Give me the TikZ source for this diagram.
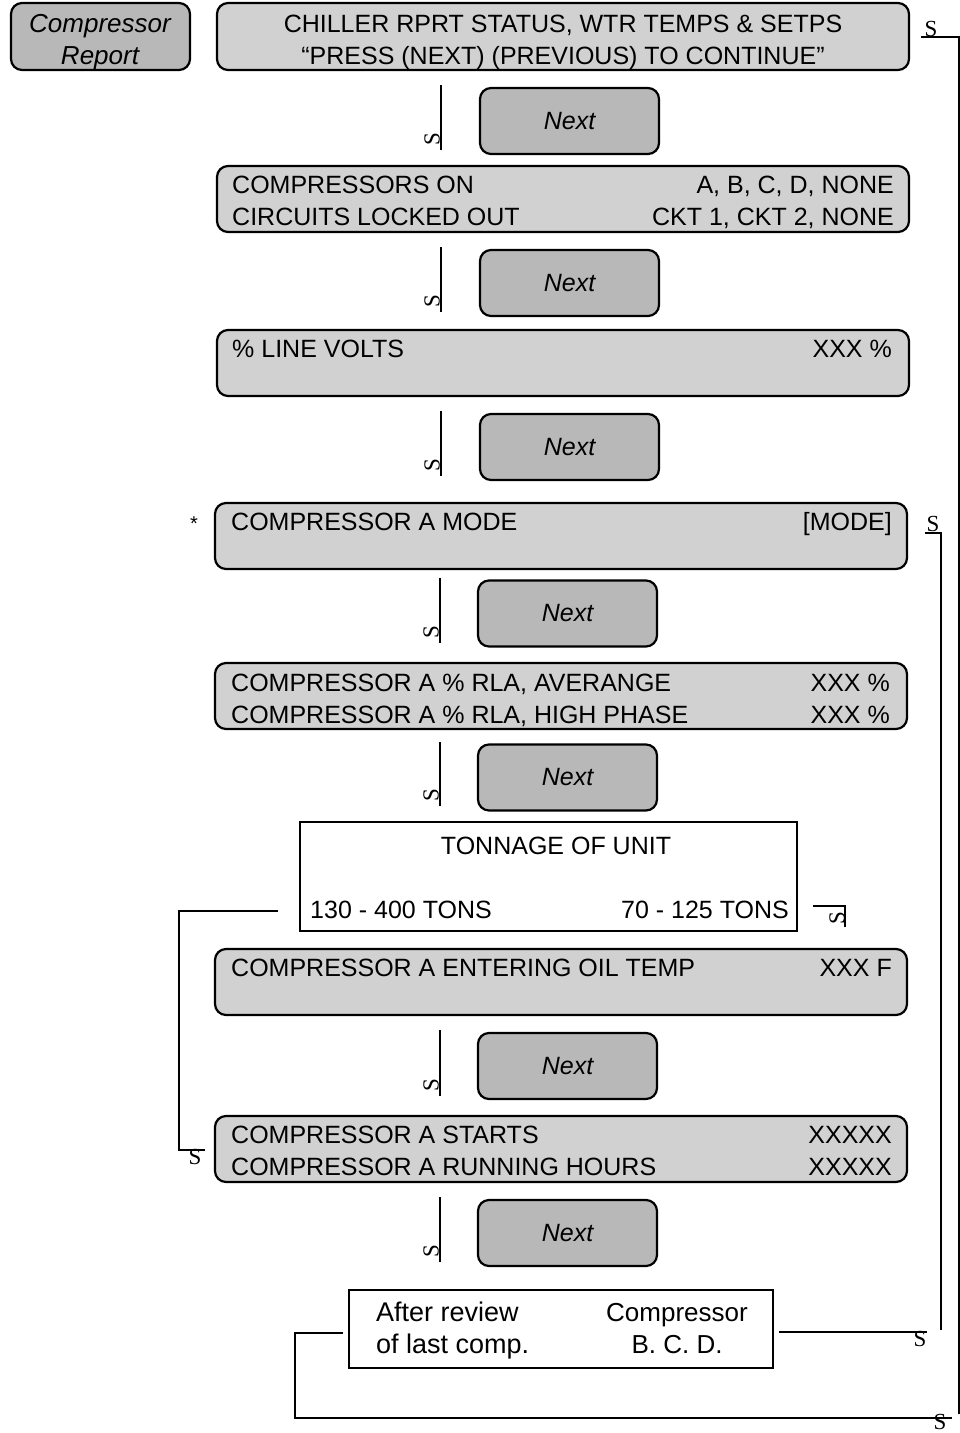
\documentclass[tikz,border=0pt]{standalone}
\usepackage{fontspec}
\setmainfont{Liberation Sans}
\newfontfamily\glyphfont{Liberation Serif}
\usetikzlibrary{positioning}
\definecolor{panelgray}{gray}{0.82}
\definecolor{btngray}{gray}{0.72}

\begin{document}
\begin{tikzpicture}[x=1pt, y=-1pt,
  panel/.style={draw, line width=2.2pt, rounded corners=11pt, fill=panelgray, minimum width=692pt, minimum height=66pt, inner sep=0pt},
  btn/.style={draw, line width=2.2pt, rounded corners=11pt, fill=btngray, minimum width=179pt, minimum height=66pt, inner sep=0pt, font=\fontsize{25}{30}\selectfont\itshape},
  plainbox/.style={draw, line width=2pt, fill=white, inner sep=0pt},
  lbl/.style={inner sep=0pt, font=\fontsize{25}{30}\selectfont},
  sg/.style={inner sep=0pt, font=\glyphfont\fontsize{23}{23}\selectfont},
  link/.style={line width=2pt}]

\useasboundingbox (0,0) rectangle (960,1433);

% report title and screens
\node[btn, minimum height=67pt] (rep) at (100.5,36.5) {};
\node[lbl, anchor=base, font=\fontsize{26}{30}\selectfont\itshape] (rep1) at (100,32) {Compressor};
\node[lbl, anchor=base, font=\fontsize{26}{30}\selectfont\itshape] (rep2) at (100,64) {Report};

\node[panel, minimum height=67pt] (b1) at (563,36.5) {};
\node[lbl, anchor=base] (b1a) at (563,32) {CHILLER RPRT STATUS, WTR TEMPS \& SETPS};
\node[lbl, anchor=base] (b1b) at (563,64) {“PRESS (NEXT) (PREVIOUS) TO CONTINUE”};

\node[panel] (b2) at (563,199) {};
\node[lbl, anchor=base west] (b2a) at (232,193) {COMPRESSORS ON};
\node[lbl, anchor=base east] (b2b) at (894,193) {A, B, C, D, NONE};
\node[lbl, anchor=base west] (b2c) at (232,225) {CIRCUITS LOCKED OUT};
\node[lbl, anchor=base east] (b2d) at (894,225) {CKT 1, CKT 2, NONE};

\node[panel] (b3) at (563,363) {};
\node[lbl, anchor=base west] (b3a) at (232,357) {\% LINE VOLTS};
\node[lbl, anchor=base east] (b3b) at (892,357) {XXX \%};

\node[lbl, font=\fontsize{20}{20}\selectfont] (star) at (194,524) {*};
\node[panel] (b4) at (561,536) {};
\node[lbl, anchor=base west] (b4a) at (231,530) {COMPRESSOR A MODE};
\node[lbl, anchor=base east] (b4b) at (892,530) {[MODE]};

\node[panel] (b5) at (561,696) {};
\node[lbl, anchor=base west] (b5a) at (231,691) {COMPRESSOR A \% RLA, AVERANGE};
\node[lbl, anchor=base east] (b5b) at (890,691) {XXX \%};
\node[lbl, anchor=base west] (b5c) at (231,723) {COMPRESSOR A \% RLA, HIGH PHASE};
\node[lbl, anchor=base east] (b5d) at (890,723) {XXX \%};

\node[plainbox, minimum width=497pt, minimum height=109pt] (ton) at (548.5,876.5) {};
\node[lbl, anchor=base] (ton1) at (556,854) {TONNAGE OF UNIT};
\node[lbl, anchor=base west] (ton2) at (310,918) {130 - 400 TONS};
\node[lbl, anchor=base east] (ton3) at (789,918) {70 - 125 TONS};

\node[panel] (b6) at (561,982) {};
\node[lbl, anchor=base west] (b6a) at (231,976) {COMPRESSOR A ENTERING OIL TEMP};
\node[lbl, anchor=base east] (b6b) at (892,976) {XXX F};

\node[panel] (b7) at (561,1149) {};
\node[lbl, anchor=base west] (b7a) at (231,1143) {COMPRESSOR A STARTS};
\node[lbl, anchor=base east] (b7b) at (892,1143) {XXXXX};
\node[lbl, anchor=base west] (b7c) at (231,1175) {COMPRESSOR A RUNNING HOURS};
\node[lbl, anchor=base east] (b7d) at (892,1175) {XXXXX};

\node[plainbox, minimum width=424pt, minimum height=78pt] (after) at (561,1329) {};
\node[lbl, anchor=base west, font=\fontsize{27}{30}\selectfont] (aft1) at (376,1321) {After review};
\node[lbl, anchor=base west, font=\fontsize{27}{30}\selectfont] (aft2) at (376,1353) {of last comp.};
\node[lbl, anchor=base, font=\fontsize{26}{30}\selectfont] (aft3) at (677,1321) {Compressor};
\node[lbl, anchor=base, font=\fontsize{26}{30}\selectfont] (aft4) at (677,1353) {B. C. D.};

% next keys and the short links
\foreach \n/\x/\y in {n1/569.5/121, n2/569.5/283, n3/569.5/447, n4/567.5/613.5, n5/567.5/777.5, n6/567.5/1066, n7/567.5/1233}
  \node[btn] (\n) at (\x,\y) {\raisebox{-2pt}{Next}};

\foreach \i/\x/\ya/\yb in {1/441/85/150, 2/441/247/312, 3/441/411/476, 4/440/578/643, 5/440/742/806, 6/440/1030/1096, 7/440/1197/1262} {
  \coordinate (up\i) at (\x,\ya);
  \coordinate (dn\i) at (\x,\yb);
  \draw[link] (up\i) -- (dn\i);
  \node[sg, rotate=90] (s\i) at (\x-9,\yb-11) {S};
}

% return lines
\coordinate (aftL) at (343,1333);
\coordinate (botR) at (952,1418);
\draw[link] (aftL) -- ++(-48,0) |- (botR);
\node[sg] (sbot) at (940,1422) {S};

\coordinate (rightB) at (959,1414);
\coordinate (topR) at (921,37);
\draw[link] (rightB) |- (topR);
\node[sg] (stop) at (931,29) {S};

\coordinate (aftR) at (779,1332);
\coordinate (midB) at (927,1332);
\draw[link] (aftR) -- (midB);
\node[sg] (smid) at (920,1339) {S};

\coordinate (upB) at (941,1330);
\coordinate (b4R) at (925,533);
\draw[link] (upB) |- (b4R);
\node[sg] (smode) at (933,524) {S};

\coordinate (tonL) at (278,911);
\coordinate (tonLc) at (179,1150);
\coordinate (b7L) at (205,1150);
\draw[link] (tonL) -| (tonLc) -- (b7L);
\node[sg] (sleft) at (195,1157) {S};

\coordinate (tonR) at (813,906);
\coordinate (tonRd) at (845,927);
\draw[link] (tonR) -| (tonRd);
\node[sg, rotate=90] (sright) at (837,918) {S};

\end{tikzpicture}
\end{document}
